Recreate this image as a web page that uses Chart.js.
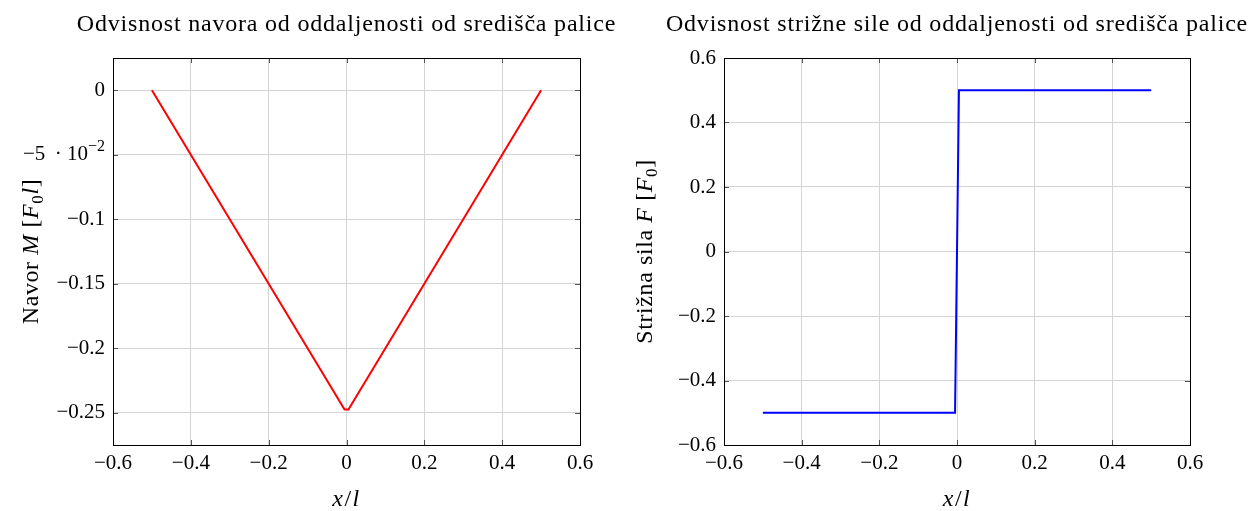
<!DOCTYPE html>
<html lang="sl">
<head>
    <meta charset="UTF-8">
    <title>Navor in strižna sila</title>
    <script src="https://cdn.jsdelivr.net/npm/chart.js"></script>
    <style>
        body {
            margin: 0;
            background: #fff;
            width: 1250px;
            height: 511px;
            overflow: hidden;
            position: relative;
        }
        .box {
            position: absolute;
            top: 0;
            height: 511px;
        }
        #leftBox { left: 0; width: 615px; }
        #rightBox { left: 615px; width: 635px; }
    </style>
</head>
<body>
    <div class="box" id="leftBox"><canvas id="navorChart"></canvas></div>
    <div class="box" id="rightBox"><canvas id="silaChart"></canvas></div>

    <script>
        // data
        const xPos = [-0.5, -0.005, 0.005, 0.5];
        const navor = [0, -0.2475, -0.2475, 0];
        const sila = [-0.5, -0.5, 0.5, 0.5];

        const xTicks = [-0.6, -0.4, -0.2, 0, 0.2, 0.4, 0.6];
        const xTickLabels = ['−0.6', '−0.4', '−0.2', '0', '0.2', '0.4', '0.6'];
        const navorTicks = [0, -0.05, -0.1, -0.15, -0.2, -0.25];
        const navorTickLabels = ['0', '−5 · 10⁻²', '−0.1', '−0.15', '−0.2', '−0.25'];
        const silaTicks = [-0.6, -0.4, -0.2, 0, 0.2, 0.4, 0.6];
        const silaTickLabels = ['−0.6', '−0.4', '−0.2', '0', '0.2', '0.4', '0.6'];

        const FONT = 'Liberation Serif';

        // text pieces: [text, italic, 'sub' | 'sup']
        const xTitle = [['x', true], ['/', false], ['l', true]];
        const navorTitle = [['Navor ', false], ['M', true], [' [', false], ['F', true], ['0', false, 'sub'], ['l', true], [']', false]];
        const silaTitle = [['Strižna sila ', false], ['F', true], [' [', false], ['F', true], ['0', false, 'sub'], [']', false]];
        // the -0.05 tick drawn with a real exponent
        const sciTick = [['−5 \u2009· 10', false], ['−2', false, 'sup']];

        function setFont(c, seg, size) {
            const s = seg[2] === 'sub' ? Math.round(size * 0.7) : seg[2] === 'sup' ? Math.round(size * 0.75) : size;
            c.font = (seg[1] ? 'italic ' : '') + s + 'px "' + FONT + '"';
        }

        // draws pieces around (0,0); align 'center' or 'right'
        function drawRich(c, segs, size, spacing, align, baseline) {
            c.letterSpacing = spacing + 'px';
            let total = 0;
            const widths = segs.map(seg => {
                setFont(c, seg, size);
                const w = c.measureText(seg[0]).width;
                total += w;
                return w;
            });
            let x = align === 'right' ? -total : -total / 2;
            c.textAlign = 'left';
            c.textBaseline = baseline || 'alphabetic';
            segs.forEach((seg, i) => {
                setFont(c, seg, size);
                const dy = seg[2] === 'sub' ? size * 0.22 : seg[2] === 'sup' ? -size * 0.38 : 0;
                c.fillText(seg[0], x, dy);
                x += widths[i];
            });
        }

        const textPlugin = {
            id: 'richText',
            afterDraw(chart, args, o) {
                const a = chart.chartArea;
                const c = chart.ctx;
                const cx = (a.left + a.right) / 2;
                const cy = (a.top + a.bottom) / 2;
                c.save();
                c.fillStyle = '#000';
                // title
                c.save();
                c.translate(cx, 31);
                drawRich(c, [[o.title, false]], 24, 0.8);
                c.restore();
                // x axis title
                c.save();
                c.translate(cx, 506);
                drawRich(c, xTitle, 24, 1.5);
                c.restore();
                // y axis title
                c.save();
                c.translate(o.yTitleX, cy);
                c.rotate(-Math.PI / 2);
                drawRich(c, o.yTitle, 24, 0.6);
                c.restore();
                // scientific tick label
                if (o.sciValue !== undefined) {
                    c.save();
                    c.translate(a.left - 8, chart.scales.y.getPixelForValue(o.sciValue));
                    drawRich(c, sciTick, 21, 0, 'right', 'middle');
                    c.restore();
                }
                c.restore();
            }
        };

        // frame + inward tick marks like pgfplots
        const framePlugin = {
            id: 'frame',
            afterDraw(chart) {
                const a = chart.chartArea;
                const c = chart.ctx;
                c.save();
                c.strokeStyle = '#555';
                c.lineWidth = 1;
                const xs = chart.scales.x, ys = chart.scales.y;
                xs.ticks.forEach(t => {
                    const px = Math.round(xs.getPixelForValue(t.value)) + 0.5;
                    c.beginPath();
                    c.moveTo(px, a.top); c.lineTo(px, a.top + 5);
                    c.moveTo(px, a.bottom); c.lineTo(px, a.bottom - 5);
                    c.stroke();
                });
                ys.ticks.forEach(t => {
                    const py = Math.round(ys.getPixelForValue(t.value)) + 0.5;
                    c.beginPath();
                    c.moveTo(a.left, py); c.lineTo(a.left + 5, py);
                    c.moveTo(a.right, py); c.lineTo(a.right - 5, py);
                    c.stroke();
                });
                c.strokeStyle = '#000';
                c.strokeRect(Math.round(a.left) + 0.5, Math.round(a.top) + 0.5,
                    Math.round(a.right - a.left), Math.round(a.bottom - a.top));
                c.restore();
            }
        };

        function makeChart(id, opts) {
            const points = xPos.map((x, i) => ({ x: x, y: opts.values[i] }));
            return new Chart(document.getElementById(id), {
                type: 'scatter',
                data: {
                    datasets: [{
                        data: points,
                        showLine: true,
                        borderColor: opts.color,
                        borderWidth: 2,
                        pointRadius: 0,
                        fill: false
                    }]
                },
                options: {
                    responsive: true,
                    maintainAspectRatio: false,
                    animation: false,
                    layout: { padding: { left: 0, right: opts.rightPad, top: 58, bottom: 0 } },
                    plugins: {
                        legend: { display: false },
                        tooltip: { enabled: false },
                        title: { display: false },
                        richText: { title: opts.title, yTitle: opts.yTitle, yTitleX: opts.yTitleX, sciValue: opts.sciValue }
                    },
                    scales: {
                        x: {
                            type: 'linear',
                            min: -0.6,
                            max: 0.6,
                            afterBuildTicks: s => { s.ticks = xTicks.map(v => ({ value: v })); },
                            afterFit: s => { s.height = 66; },
                            ticks: {
                                color: '#000',
                                padding: 6,
                                maxRotation: 0,
                                font: { family: FONT, size: 21 },
                                callback: v => xTickLabels[xTicks.indexOf(v)]
                            },
                            grid: { color: '#d4d4d4', drawTicks: false },
                            border: { color: '#000' }
                        },
                        y: {
                            type: 'linear',
                            min: opts.yMin,
                            max: opts.yMax,
                            afterBuildTicks: s => { s.ticks = opts.yTicks.map(v => ({ value: v })); },
                            afterFit: s => { s.width = opts.yWidth; },
                            ticks: {
                                color: ctx => ctx.tick && ctx.tick.value === opts.sciValue ? 'rgba(0,0,0,0)' : '#000',
                                padding: 8,
                                font: { family: FONT, size: 21 },
                                callback: v => opts.yLabels[opts.yTicks.indexOf(v)]
                            },
                            grid: { color: '#d4d4d4', drawTicks: false },
                            border: { color: '#000' }
                        }
                    }
                },
                plugins: [framePlugin, textPlugin]
            });
        }

        makeChart('navorChart', {
            values: navor,
            color: '#ff0000',
            title: 'Odvisnost navora od oddaljenosti od središča palice',
            yTitle: navorTitle,
            yTitleX: 38,
            yMin: -0.275,
            yMax: 0.025,
            yTicks: navorTicks,
            yLabels: navorTickLabels,
            sciValue: -0.05,
            yWidth: 113,
            rightPad: 35
        });

        makeChart('silaChart', {
            values: sila,
            color: '#0000ff',
            title: 'Odvisnost strižne sile od oddaljenosti od središča palice',
            yTitle: silaTitle,
            yTitleX: 37,
            yMin: -0.6,
            yMax: 0.6,
            yTicks: silaTicks,
            yLabels: silaTickLabels,
            yWidth: 109,
            rightPad: 60
        });
    </script>
</body>
</html>
